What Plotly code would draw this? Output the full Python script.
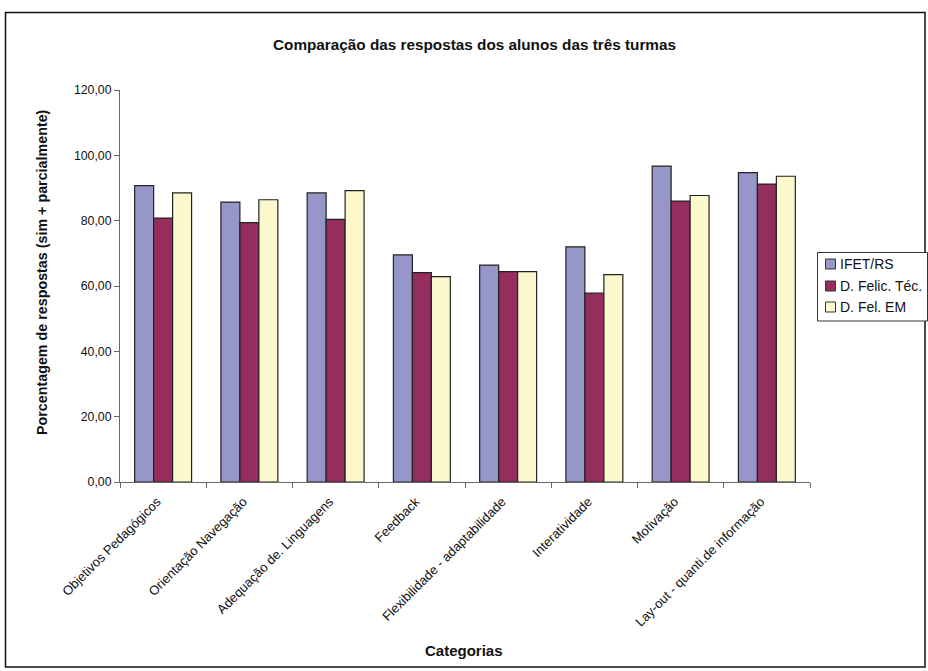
import plotly.graph_objects as go

categories = ["Objetivos Pedagógicos", "Orientação Navegação", "Adequação de. Linguagens",
              "Feedback", "Flexibilidade - adaptabilidade", "Interatividade", "Motivação",
              "Lay-out - quanti.de informação"]
series_names = ["IFET/RS", "D. Felic. Téc.", "D. Fel. EM"]
ifet = [90.7, 85.7, 88.5, 69.5, 66.4, 72.0, 96.7, 94.7]
felic_tec = [80.8, 79.4, 80.4, 64.1, 64.4, 57.8, 86.0, 91.2]
fel_em = [88.5, 86.4, 89.2, 62.9, 64.4, 63.5, 87.7, 93.6]
y_ticks = [0, 20, 40, 60, 80, 100, 120]

colors = ["#9696C8", "#962D5F", "#FAF8CC"]
FONT = "Liberation Sans, Arial, sans-serif"

W, H = 928, 671
L, R, T, B = 120, 118, 90, 189
pw, ph = W - L - R, H - T - B

def px_x(x):
    return (x - L) / pw

def px_y(y):
    return (H - B - y) / ph

fig = go.Figure()
for name, vals, c in zip(series_names, [ifet, felic_tec, fel_em], colors):
    fig.add_trace(go.Bar(x=categories, y=vals, name=name, marker_color=c,
                         marker_line=dict(color="#222222", width=1.2)))

shapes = [
    dict(type="rect", xref="paper", yref="paper",
         x0=px_x(5.5), x1=px_x(925), y0=px_y(667), y1=px_y(12.5),
         line=dict(color="#111111", width=1.5), fillcolor="rgba(0,0,0,0)", layer="below"),
    # legend box
    dict(type="rect", xref="paper", yref="paper",
         x0=px_x(817.5), x1=px_x(927.5), y0=px_y(321), y1=px_y(252.5),
         line=dict(color="#333333", width=1), fillcolor="white"),
]
annotations = [
    dict(text="<b>Comparação das respostas dos alunos das três turmas</b>",
         xref="paper", yref="paper", x=px_x(475), y=px_y(45),
         xanchor="center", yanchor="middle",
         showarrow=False, font=dict(size=15.3, family=FONT)),
    dict(text="<b>Porcentagem de respostas (sim + parcialmente)</b>",
         xref="paper", yref="paper", x=px_x(42), y=px_y(272), textangle=-90,
         xanchor="center", yanchor="middle",
         showarrow=False, font=dict(size=14.3, family=FONT)),
    dict(text="<b>Categorias</b>",
         xref="paper", yref="paper", x=px_x(464), y=px_y(650),
         xanchor="center", yanchor="middle",
         showarrow=False, font=dict(size=15, family=FONT)),
]
legend_rows = [264, 286, 307]
for name, c, yc in zip(series_names, colors, legend_rows):
    shapes.append(dict(type="rect", xref="paper", yref="paper",
                       x0=px_x(825.5), x1=px_x(835.5), y0=px_y(yc + 5), y1=px_y(yc - 5),
                       line=dict(color="#333333", width=1), fillcolor=c))
    annotations.append(dict(text=name, xref="paper", yref="paper",
                            x=px_x(838), y=px_y(yc), xanchor="left", yanchor="middle",
                            showarrow=False, font=dict(size=14, family=FONT)))

fig.update_layout(
    width=W, height=H,
    margin=dict(l=L, r=R, t=T, b=B),
    barmode="group", bargap=0.34, bargroupgap=0,
    plot_bgcolor="white", paper_bgcolor="white",
    separators=",.",
    font=dict(family=FONT, size=12, color="#111111"),
    showlegend=False,
    xaxis=dict(showline=True, linecolor="#666666", linewidth=1,
               ticks="outside", tickson="boundaries", ticklen=5, tickcolor="#666666",
               tickangle=-45, tickfont=dict(size=13, family=FONT), showgrid=False,
               ticklabelstandoff=6, ticklabelshift=-6),
    yaxis=dict(range=[0, 120], tickvals=y_ticks, tickformat=".2f",
               showline=True, linecolor="#666666", linewidth=1,
               ticks="outside", ticklen=5, tickcolor="#666666",
               showgrid=False, zeroline=False, tickfont=dict(size=12.3, family=FONT)),
    annotations=annotations,
    shapes=shapes,
)

fig.write_html("out.html")
